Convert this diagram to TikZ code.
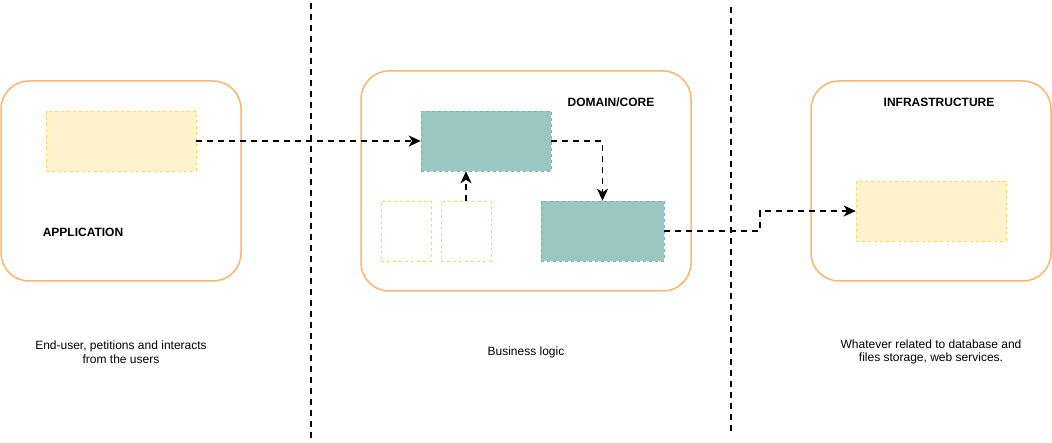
\documentclass[tikz,border=0pt]{standalone}
\usepackage{fontspec}
\setmainfont{Liberation Sans}
\usetikzlibrary{arrows.meta}

\definecolor{layerline}{HTML}{FFB570}
\definecolor{yellowfill}{HTML}{FFF2CC}
\definecolor{yellowline}{HTML}{FFD966}
\definecolor{tealfill}{HTML}{9AC7BF}
\definecolor{tealline}{HTML}{7EA6E0}

\begin{document}
\begin{tikzpicture}
        [x=1pt,y=-1pt,thick,
        every node/.style={font=\fontsize{12}{13.5}\selectfont,inner sep=0pt},
        layer/.style={draw=layerline,line width=1.5pt,rounded corners=28pt,fill=white},
        appbox/.style={draw=yellowline,fill=yellowfill,dashed,line width=0.6pt,minimum width=150pt,minimum height=60pt},
        corebox/.style={draw=tealline,fill=tealfill,dashed,line width=0.6pt,minimum height=60pt},
        emptybox/.style={draw=yellowline,dashed,line width=0.6pt,minimum width=50pt,minimum height=60pt},
        title/.style={font=\bfseries\fontsize{12}{13.5}\selectfont},
        note/.style={align=center},
        flow/.style={-{Stealth[length=12pt,width=11pt,inset=3.5pt]},line width=1.8pt,dash pattern=on 6pt off 5pt},
        split/.style={line width=1.8pt,dash pattern=on 6pt off 5pt}]
        \useasboundingbox (0,0) rectangle (1052,443);

        % dividers
        \coordinate (T1) at (311,3);
        \coordinate (B1) at (311,441);
        \coordinate (T2) at (731,7);
        \coordinate (B2) at (731,431);
        \draw [split] (T1) -- (B1);
        \draw [split] (T2) -- (B2);

        % layers
        \node [layer,minimum width=240pt,minimum height=200pt] (App) at (121,181) {};
        \node [layer,minimum width=330pt,minimum height=220pt] (Core) at (526,181) {};
        \node [layer,minimum width=240pt,minimum height=200pt] (Infra) at (931,181) {};

        \node [title] (AppT) at (83,232) {APPLICATION};
        \node [title] (CoreT) at (611,102) {DOMAIN/CORE};
        \node [title] (InfraT) at (939,102) {INFRASTRUCTURE};

        % boxes
        \node [appbox] (A) at (121,141) {};
        \node [corebox,minimum width=130pt] (C1) at (486,141) {};
        \node [corebox,minimum width=123pt] (C2) at (602.5,231) {};
        \node [emptybox] (E1) at (406,231) {};
        \node [emptybox] (E2) at (466,231) {};
        \node [appbox] (I) at (931,211) {};

        \coordinate (K) at (760,221);

        \path [flow] (A.east) edge (C1.west);
        \draw [flow] (C1.east) -| (C2.north);
        \draw [flow] (E2.north) -- (E2.north |- C1.south);
        \draw [flow] (C2.east) -| (K) |- (I.west);

        % notes
        \node [note] (AppN) at (121,352) {End-user, petitions and interacts\\from the users};
        \node [note] (CoreN) at (526,352) {Business logic};
        \node [note] (InfraN) at (931,352) {Whatever related to database and\\files storage, web services.};

    \end{tikzpicture}
\end{document}
